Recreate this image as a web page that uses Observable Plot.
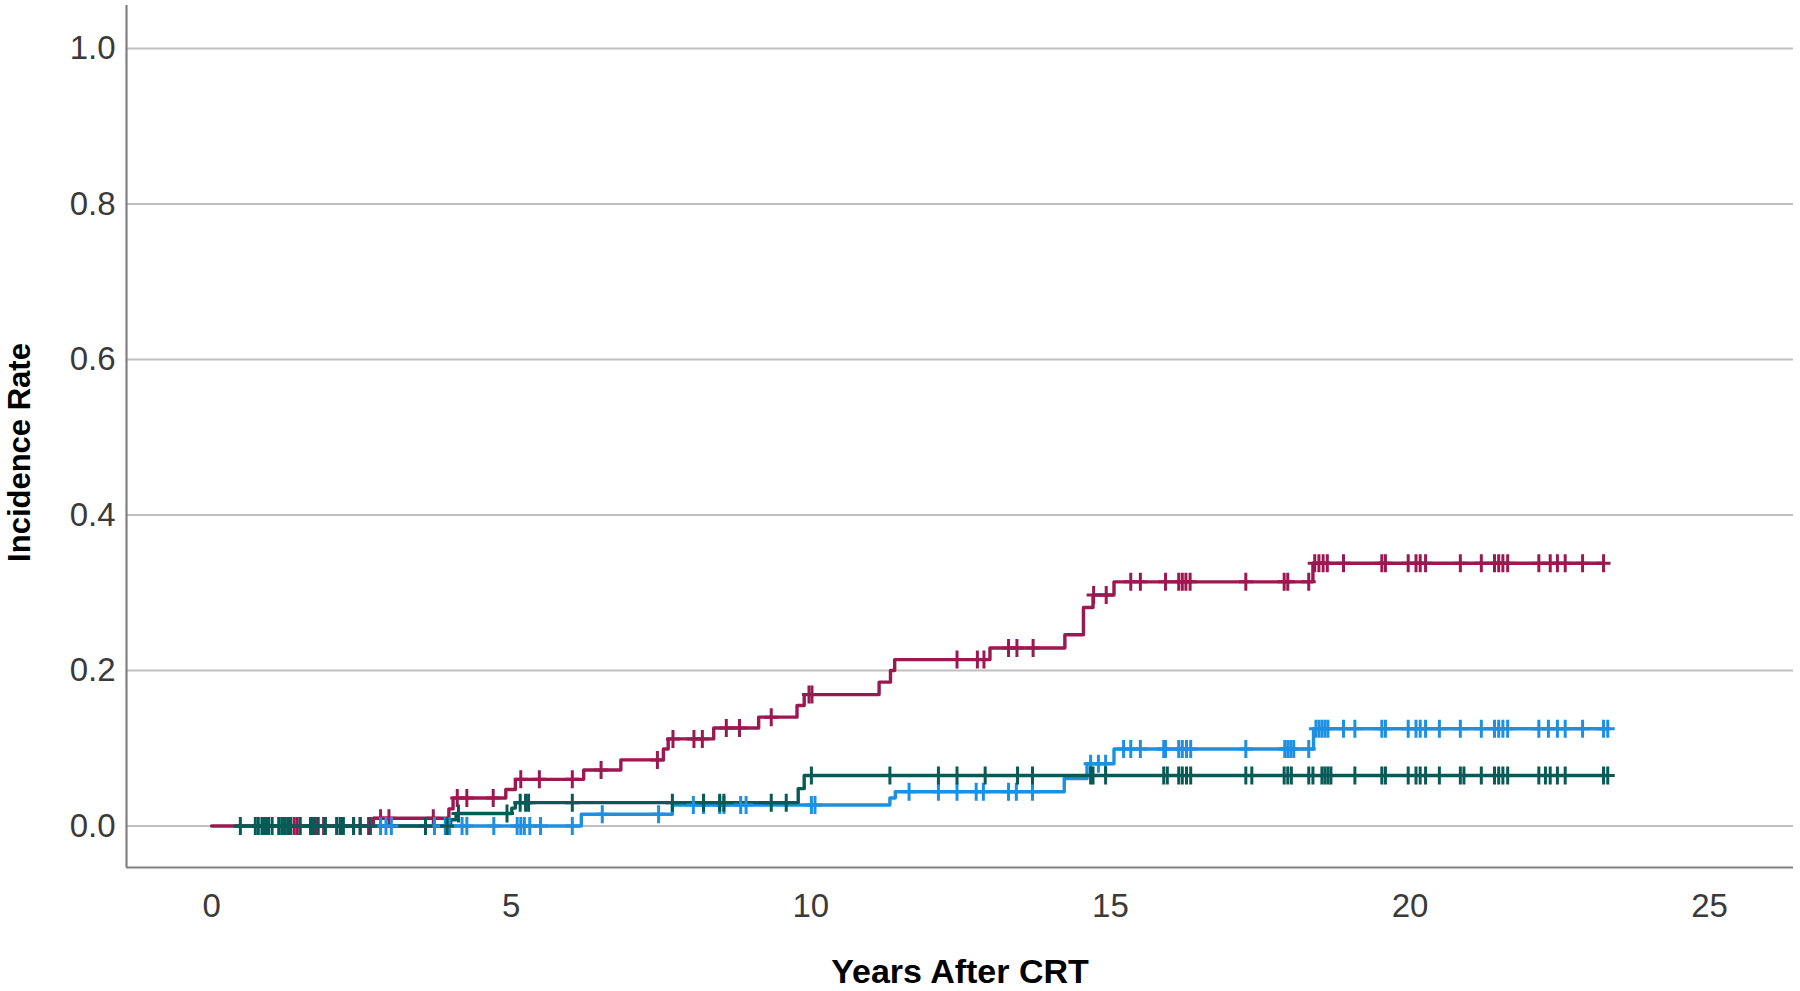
<!DOCTYPE html>
<html>
<head>
<meta charset="utf-8">
<script src="https://cdn.jsdelivr.net/npm/d3@7"></script>
<script src="https://cdn.jsdelivr.net/npm/@observablehq/plot@0.6"></script>
<style>
  html, body { margin: 0; padding: 0; background: #ffffff; }
  #chart svg { display: block; }
</style>
</head>
<body>
<div id="chart"></div>
<script>
// ---------- data ----------
const xTicks = [0, 5, 10, 15, 20, 25];
const yTicks = [0, 0.2, 0.4, 0.6, 0.8, 1.0];
const groups = ["Group A", "Group B", "Group C"];

// Group A (maroon): step times / cumulative incidence after each step
const maroonStepTimes  = [0, 2.70, 3.96, 4.03, 4.91, 5.07, 6.21, 6.83, 7.54, 7.62, 8.38, 9.13, 9.77, 9.89, 11.14, 11.33, 11.40, 12.99, 14.24, 14.55, 14.71, 15.06, 18.38];
const maroonStepValues = [0, 0.010, 0.022, 0.036, 0.047, 0.060, 0.072, 0.085, 0.099, 0.112, 0.126, 0.140, 0.155, 0.169, 0.185, 0.200, 0.214, 0.229, 0.246, 0.281, 0.297, 0.314, 0.338];
const maroonCensored = [0.85, 0.90, 0.94, 1.22, 1.28, 1.32, 1.38, 1.43, 1.68, 1.72, 1.76, 1.87, 2.09, 2.18, 2.37, 2.48, 2.62,
  2.82, 2.96, 3.70, 4.10, 4.26, 4.70, 5.16, 5.47, 6.02, 6.50, 7.44, 7.70, 8.05, 8.19, 8.59, 8.81, 9.34, 9.97, 10.02,
  12.44, 12.78, 12.89, 13.30, 13.44, 13.71, 14.72, 14.93,
  15.34, 15.50, 15.92, 16.14, 16.20, 16.26, 16.33, 17.26, 17.90, 17.96, 18.31,
  18.41, 18.48, 18.55, 18.62, 18.89, 19.53, 19.59, 19.97, 20.10, 20.17, 20.26, 20.84, 21.19, 21.41, 21.48, 21.55, 21.63,
  22.15, 22.34, 22.46, 22.59, 22.88, 23.23];

// Group B (light blue)
const blueStepTimes  = [2.79, 6.17, 7.69, 11.32, 11.41, 14.23, 14.61, 15.06, 18.39];
const blueStepValues = [0, 0.015, 0.027, 0.036, 0.044, 0.061, 0.080, 0.099, 0.125];
const blueCensored = [2.82, 2.91, 3.00, 3.72, 3.90, 3.97, 4.18, 4.26, 4.71, 5.10, 5.16, 5.22, 5.31, 5.49, 6.02,
  6.52, 7.46, 8.04, 8.21, 8.48, 8.55, 8.83, 8.92, 10.01, 10.07,
  11.64, 12.13, 12.44, 12.76, 12.88, 13.30, 13.43, 13.70, 14.67, 14.80, 14.92,
  15.22, 15.34, 15.50, 15.89, 15.92, 16.14, 16.20, 16.27, 16.34, 17.26, 17.91, 17.96, 18.01, 18.06, 18.31,
  18.43, 18.48, 18.53, 18.58, 18.63, 18.89, 19.08, 19.53, 19.59, 19.97, 20.10, 20.17, 20.26, 20.49, 20.84, 21.19,
  21.41, 21.48, 21.55, 21.63, 22.15, 22.31, 22.46, 22.59, 22.88, 23.23, 23.30];

// Group C (dark teal)
const tealStepTimes  = [0.40, 3.99, 4.08, 5.01, 5.07, 9.79, 9.89];
const tealStepValues = [0, 0.008, 0.016, 0.023, 0.030, 0.048, 0.065];
const tealCensored = [0.48, 0.73, 0.78, 0.84, 0.90, 0.95, 1.01, 1.12, 1.17, 1.22, 1.27, 1.32, 1.48, 1.65, 1.70, 1.78, 1.90,
  2.09, 2.15, 2.20, 2.37, 2.48, 2.65, 3.57, 3.93, 4.12, 4.93,
  5.15, 5.24, 5.29, 6.02, 7.69, 8.21, 8.48, 8.55, 9.34, 9.59,
  10.01, 11.32, 12.13, 12.44, 12.91, 13.45, 13.70, 14.67, 14.71, 14.92, 15.89, 15.95, 16.14, 16.20, 16.27, 16.34,
  17.26, 17.36, 17.90, 17.96, 18.02, 18.31, 18.38, 18.53, 18.58, 18.63, 18.68, 19.08, 19.53, 19.59, 19.97, 20.10,
  20.17, 20.26, 20.49, 20.84, 20.90, 21.19, 21.41, 21.48, 21.55, 21.63, 22.15, 22.26, 22.34, 22.46, 22.59, 23.23, 23.30];

const colors = ["#9b1850", "#1e90e2", "#075b56"];

// ---------- build tables ----------
function buildSeries(group, stepT, stepV, censored) {
  const end = d3.max(censored);
  const line = stepT.map((t, i) => ({group, t, v: stepV[i]}));
  line.push({group, t: end, v: stepV[stepV.length - 1]});
  const marks = censored.map(t => ({group, t, v: stepV[Math.max(0, d3.bisectRight(stepT, t) - 1)]}));
  return {line, marks};
}
const series = [
  buildSeries(groups[0], maroonStepTimes, maroonStepValues, maroonCensored),
  buildSeries(groups[1], blueStepTimes, blueStepValues, blueCensored),
  buildSeries(groups[2], tealStepTimes, tealStepValues, tealCensored)
];

// plus-shaped censor symbol
const plus = {
  draw(context) {
    context.moveTo(0, -9); context.lineTo(0, 9);
    context.moveTo(-7, 0); context.lineTo(7, 0);
  }
};

const xDomain = [-1.42, 26.4];
const yDomain = [-0.0534, 1.0553];

const lineMarks = series.map((s, i) =>
  Plot.line(s.line, {x: "t", y: "v", curve: "step-after", stroke: colors[i], strokeWidth: 3.4})
);
const dotMarks = series.map((s, i) =>
  Plot.dot(s.marks, {x: "t", y: "v", symbol: plus, fill: "none", stroke: colors[i], strokeWidth: 3})
);

const chart = Plot.plot({
  width: 1800,
  height: 991,
  marginLeft: 126,
  marginRight: 7,
  marginTop: 5,
  marginBottom: 124,
  style: {fontFamily: "'Liberation Sans', Arial, sans-serif", background: "#ffffff", color: "#333"},
  x: {domain: xDomain},
  y: {domain: yDomain},
  marks: [
    Plot.gridY(yTicks, {stroke: "#bfbfbf", strokeOpacity: 1, strokeWidth: 2}),
    Plot.ruleX([xDomain[0]], {stroke: "#808080", strokeWidth: 2.2}),
    Plot.ruleY([yDomain[0]], {stroke: "#808080", strokeWidth: 2.2}),
    Plot.axisX(xTicks, {tickSize: 0, tickPadding: 26, fontSize: 33, fill: "#3a3a3a", label: null}),
    Plot.axisY(yTicks, {tickSize: 0, tickPadding: 11, fontSize: 33, fill: "#3a3a3a", tickFormat: d3.format(".1f"), label: null}),
    Plot.text(["Years After CRT"], {frameAnchor: "bottom", dy: 105, textAnchor: "middle", lineAnchor: "middle",
      fontSize: 34, fontWeight: "bold", fill: "#000"}),
    Plot.text(["Incidence Rate"], {frameAnchor: "left", dx: -106, dy: 16, rotate: -90, textAnchor: "middle", lineAnchor: "middle",
      fontSize: 31, fontWeight: "bold", fill: "#000"}),
    ...lineMarks,
    ...dotMarks
  ]
});
document.getElementById("chart").appendChild(chart);
</script>
</body>
</html>
